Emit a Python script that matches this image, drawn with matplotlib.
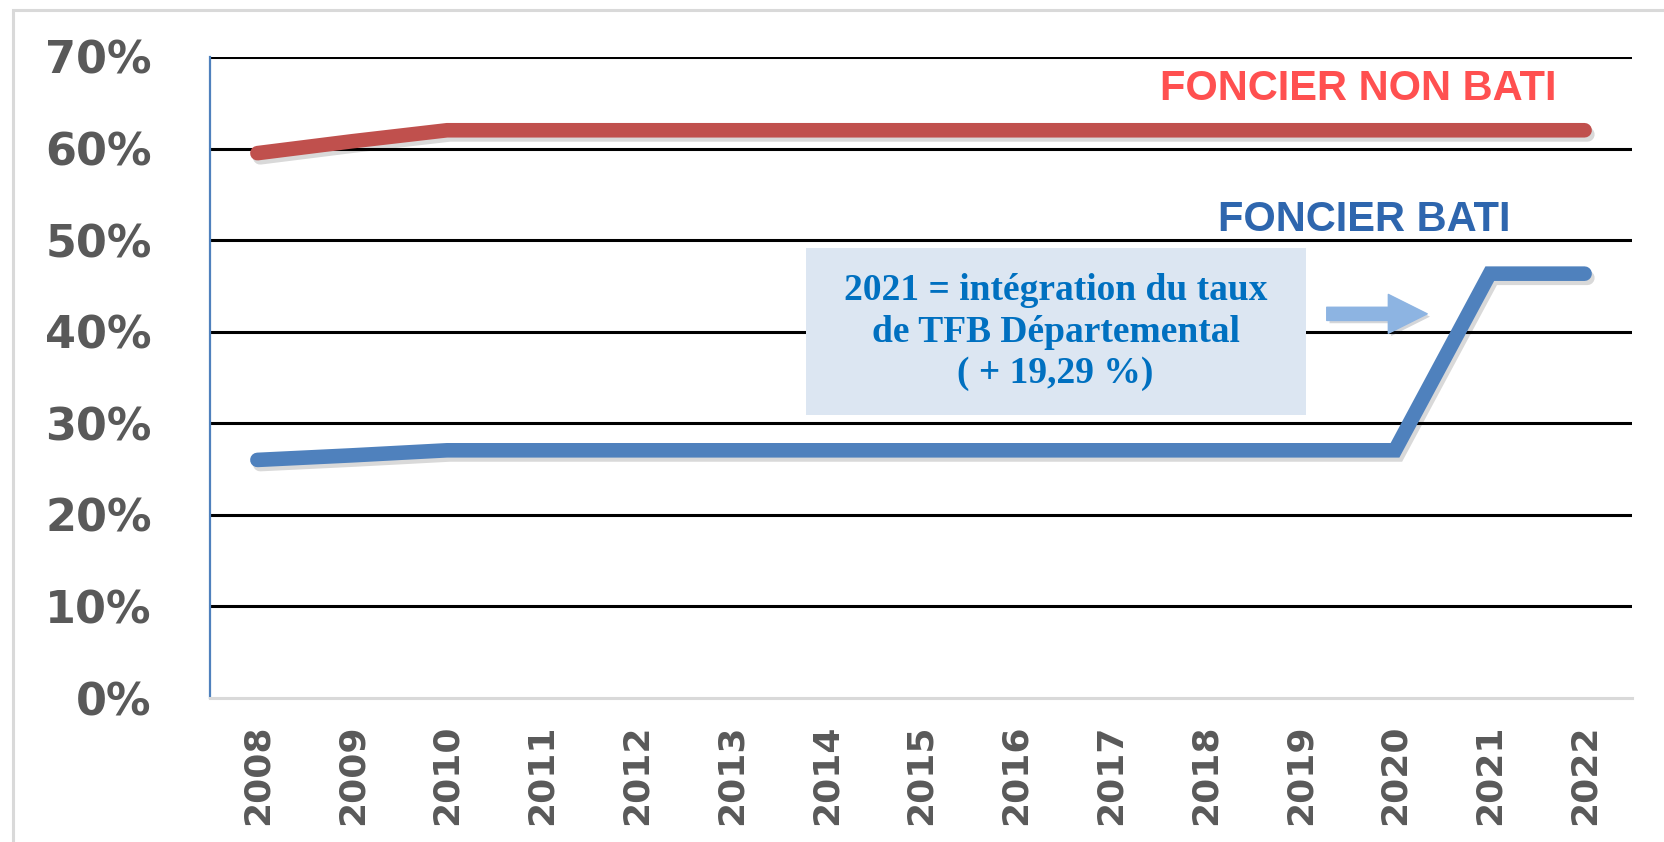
import numpy as np
import matplotlib
matplotlib.use('Agg')
import matplotlib.pyplot as plt
import matplotlib.patheffects as pe
from matplotlib import font_manager
from matplotlib.patches import Rectangle

# donnees
years = ['2008', '2009', '2010', '2011', '2012', '2013', '2014', '2015',
         '2016', '2017', '2018', '2019', '2020', '2021', '2022']
foncier_non_bati = [0.595, 0.608, 0.620, 0.620, 0.620, 0.620, 0.620, 0.620,
                    0.620, 0.620, 0.620, 0.620, 0.620, 0.620, 0.620]
foncier_bati = [0.260, 0.265, 0.2705, 0.2705, 0.2705, 0.2705, 0.2705, 0.2705,
                0.2705, 0.2705, 0.2705, 0.2705, 0.2705, 0.4634, 0.4634]
yticks = [0, 0.1, 0.2, 0.3, 0.4, 0.5, 0.6, 0.7]
ytick_labels = ['0%', '10%', '20%', '30%', '40%', '50%', '60%', '70%']

# police etroite pour les annees si disponible
narrow = {f.name for f in font_manager.fontManager.ttflist}
if 'Liberation Sans Narrow' in narrow:
    xfont, xsize = 'Liberation Sans Narrow', 34
else:
    xfont, xsize = 'DejaVu Sans', 26
    if 'DejaVu Sans Condensed' in narrow:
        xfont = 'DejaVu Sans Condensed'

W, H = 1665, 842
fig = plt.figure(figsize=(W / 100, H / 100), dpi=100)
ax = fig.add_axes([210 / W, 1 - 698 / H, (1632 - 210) / W, (698 - 57) / H])

# cadre gris autour du graphique
fig.patches.append(Rectangle((13 / W, -0.1), 1.2, 1.1 - 10 / H, transform=fig.transFigure,
                             fill=False, edgecolor='#D9D9D9', linewidth=2.2, zorder=0))

x = np.arange(len(years))
shadow = [pe.SimpleLineShadow(offset=(2, -3), alpha=0.15, shadow_color='black'), pe.Normal()]
ax.plot(x, foncier_non_bati, color='#C0504D', linewidth=10.5, solid_capstyle='round',
        solid_joinstyle='round', path_effects=shadow, zorder=5)
ax.plot(x, foncier_bati, color='#4F81BD', linewidth=10.5, solid_capstyle='round',
        solid_joinstyle='miter', path_effects=shadow, zorder=5)

ax.set_xlim(-0.5, len(years) - 0.5)
ax.set_ylim(0, 0.7)
ax.set_yticks(yticks)
ax.set_yticklabels(ytick_labels, fontsize=32, fontweight='bold', color='#595959',
                   family='DejaVu Sans')
ax.set_xticks(x)
ax.set_xticklabels(years, rotation=90, fontsize=xsize, fontweight='bold', color='#595959',
                   family=[xfont, 'DejaVu Sans'])
ax.tick_params(axis='both', length=0)
ax.tick_params(axis='y', pad=42)
ax.tick_params(axis='x', pad=19)

for yv in yticks[1:]:
    ax.axhline(yv, color='black', linewidth=2.2, zorder=1)

for s in ['top', 'right']:
    ax.spines[s].set_visible(False)
ax.spines['left'].set_color('#4F81BD')
ax.spines['left'].set_linewidth(1.6)
ax.spines['bottom'].set_color('#D9D9D9')
ax.spines['bottom'].set_linewidth(2.2)

ax.text(11.61, 0.665, 'FONCIER NON BATI', color='#FF5050', fontsize=30, fontweight='bold',
        family='Liberation Sans', ha='center', va='center', zorder=6)
ax.text(11.68, 0.5225, 'FONCIER BATI', color='#2E66AE', fontsize=30, fontweight='bold',
        family='Liberation Sans', ha='center', va='center', zorder=6)

# encadre d'annotation
ax.add_patch(Rectangle((5.79, 0.309), 5.27, 0.182, facecolor='#DCE6F2', edgecolor='none', zorder=3))
ax.text(8.42, 0.3995, '2021 = intégration du taux\nde TFB Départemental\n( + 19,29 %)',
        color='#0070C0', fontsize=27, fontweight='bold', family='Liberation Serif',
        ha='center', va='center', linespacing=1.25, zorder=4)

ax.annotate('', xy=(12.34, 0.4195), xytext=(11.28, 0.4195),
            arrowprops=dict(arrowstyle='simple,head_length=2.8,head_width=2.8,tail_width=0.95',
                            mutation_scale=10, color='#8DB4E2', shrinkA=0, shrinkB=0,
                            path_effects=[pe.SimplePatchShadow(offset=(2, -2), alpha=0.2), pe.Normal()]),
            zorder=4)

fig.savefig('out.png', dpi=100)
